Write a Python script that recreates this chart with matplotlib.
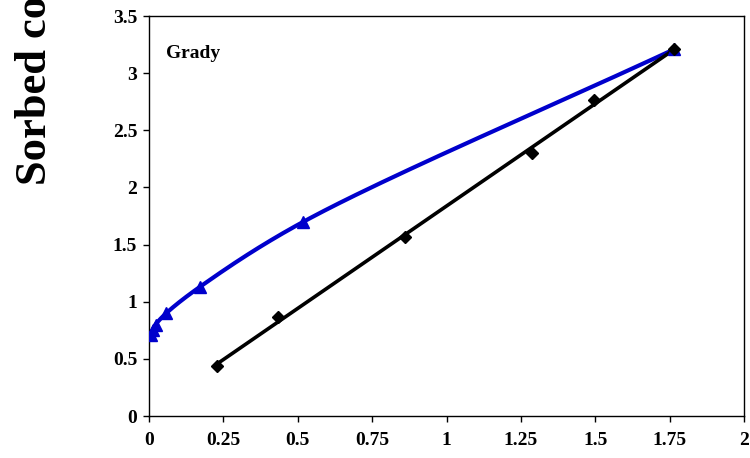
import matplotlib
matplotlib.use('Agg')
import matplotlib.pyplot as plt
import numpy as np

# data
x_lin = [0.228, 0.433, 0.86, 1.287, 1.496, 1.766]
y_lin = [0.44, 0.863, 1.566, 2.30, 2.765, 3.215]

x_curve = [0.005, 0.012, 0.022, 0.058, 0.171, 0.519, 1.766]
y_curve = [0.71, 0.755, 0.80, 0.90, 1.13, 1.70, 3.21]

xticks = [0, 0.25, 0.5, 0.75, 1, 1.25, 1.5, 1.75, 2]
xtick_labels = ['0', '0.25', '0.5', '0.75', '1', '1.25', '1.5', '1.75', '2']
yticks = [0, 0.5, 1, 1.5, 2, 2.5, 3, 3.5]
ytick_labels = ['0', '0.5', '1', '1.5', '2', '2.5', '3', '3.5']


def smooth(xs, ys, n=40, alpha=0.5):
	# centripetal catmull-rom through the points, done in screen-ish units
	sc = np.array([595 / 2.0, 400 / 3.5])
	p = np.column_stack([xs, ys]).astype(float) * sc
	p = np.vstack([2 * p[0] - p[1], p, 2 * p[-1] - p[-2]])
	out = []
	for i in range(1, len(p) - 2):
		p0, p1, p2, p3 = p[i - 1], p[i], p[i + 1], p[i + 2]
		t0 = 0.0
		t1 = t0 + np.linalg.norm(p1 - p0) ** alpha
		t2 = t1 + np.linalg.norm(p2 - p1) ** alpha
		t3 = t2 + np.linalg.norm(p3 - p2) ** alpha
		t = np.linspace(t1, t2, n)[:, None]
		a1 = (t1 - t) / (t1 - t0) * p0 + (t - t0) / (t1 - t0) * p1
		a2 = (t2 - t) / (t2 - t1) * p1 + (t - t1) / (t2 - t1) * p2
		a3 = (t3 - t) / (t3 - t2) * p2 + (t - t2) / (t3 - t2) * p3
		b1 = (t2 - t) / (t2 - t0) * a1 + (t - t0) / (t2 - t0) * a2
		b2 = (t3 - t) / (t3 - t1) * a2 + (t - t1) / (t3 - t1) * a3
		out.append((t2 - t) / (t2 - t1) * b1 + (t - t1) / (t2 - t1) * b2)
	out = np.vstack(out) / sc
	return out[:, 0], out[:, 1]


plt.rcParams['font.family'] = ['Liberation Serif', 'DejaVu Serif']
plt.rcParams['font.weight'] = 'bold'

fig = plt.figure(figsize=(7.5, 4.58), dpi=100)
ax = fig.add_axes([0.1987, 0.0917, 0.7933, 0.8733])

blue = '#0000CC'
sx, sy = smooth(x_curve, y_curve)
ax.plot(sx, sy, color=blue, lw=3, solid_capstyle='round', zorder=3)
ax.plot(x_curve, y_curve, linestyle='none', marker='^', color=blue, markersize=8.5, zorder=4)

k, b = np.polyfit(x_lin, y_lin, 1)
fx = np.array([min(x_lin), max(x_lin)])
ax.plot(fx, k * fx + b, color='black', lw=2.6, zorder=3)
ax.plot(x_lin, y_lin, linestyle='none', marker='D', color='black', markersize=6.5, zorder=4)

ax.set_xlim(0, 2)
ax.set_ylim(0, 3.5)
ax.set_xticks(xticks)
ax.set_xticklabels(xtick_labels)
ax.set_yticks(yticks)
ax.set_yticklabels(ytick_labels)
ax.tick_params(direction='out', length=4.5, width=1, labelsize=14)
ax.tick_params(axis='x', pad=7)
ax.tick_params(axis='y', pad=4)
for s in ax.spines.values():
	s.set_linewidth(1)
	s.set_color('black')

ax.text(0.028, 0.895, 'Grady', transform=ax.transAxes, fontsize=14, fontweight='bold')

fig.text(0.047, (458 - 185) / 458, 'Sorbed concentration (mg/g)', rotation=90,
		 ha='center', va='bottom', fontsize=32, fontweight='bold')

fig.savefig('out.png', dpi=100)
